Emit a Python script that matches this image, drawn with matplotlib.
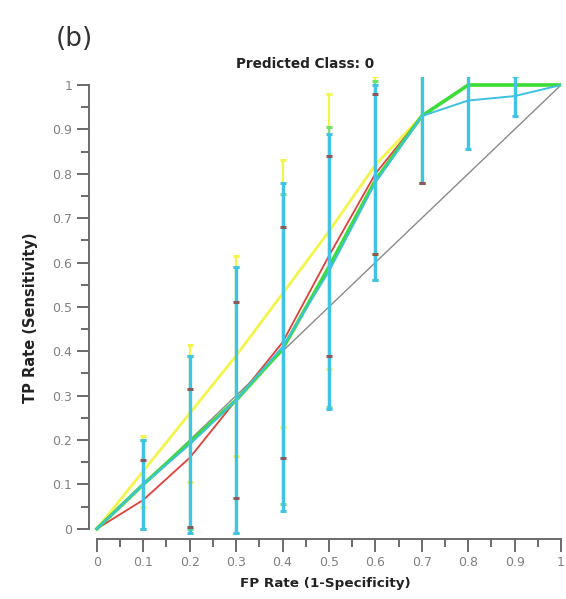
import matplotlib
matplotlib.use("Agg")
import matplotlib.pyplot as plt
import numpy as np

# ROC points (FP rate vs TP rate) for the four models, with +/- spread
fpr = [0.0, 0.1, 0.2, 0.3, 0.4, 0.5, 0.6, 0.7, 0.8, 0.9, 1.0]

yellow_tpr = [0.0, 0.13, 0.26, 0.39, 0.53, 0.67, 0.82, 0.93, 1.0, 1.0, 1.0]
yellow_err = [0.0, 0.08, 0.155, 0.225, 0.30, 0.31, 0.20, 0.15, 0.0, 0.0, 0.0]

red_tpr = [0.0, 0.065, 0.16, 0.29, 0.42, 0.615, 0.80, 0.93, 1.0, 1.0, 1.0]
red_err = [0.0, 0.09, 0.155, 0.22, 0.26, 0.225, 0.18, 0.15, 0.0, 0.0, 0.0]

green_tpr = [0.0, 0.10, 0.195, 0.29, 0.405, 0.59, 0.785, 0.93, 1.0, 1.0, 1.0]
green_err = [0.0, 0.10, 0.195, 0.30, 0.35, 0.315, 0.225, 0.15, 0.0, 0.0, 0.0]

cyan_tpr = [0.0, 0.10, 0.19, 0.29, 0.41, 0.58, 0.78, 0.93, 0.965, 0.975, 1.0]
cyan_err = [0.0, 0.10, 0.20, 0.30, 0.37, 0.31, 0.22, 0.15, 0.11, 0.045, 0.0]

ticks = [0, 0.1, 0.2, 0.3, 0.4, 0.5, 0.6, 0.7, 0.8, 0.9, 1]
tick_labels = ["0", "0.1", "0.2", "0.3", "0.4", "0.5", "0.6", "0.7", "0.8", "0.9", "1"]

fig = plt.figure(figsize=(5.66, 5.99), dpi=100)
ax = fig.add_axes([0.1572, 0.1002, 0.834, 0.7705])

# chance line
ax.plot([0, 1], [0, 1], color="#8a8a8a", lw=1.0, zorder=1)

# curves
ax.plot(fpr, yellow_tpr, color="#f4f54a", lw=2.0, zorder=2)
ax.plot(fpr, red_tpr, color="#e0403a", lw=1.3, zorder=3)
ax.plot(fpr, green_tpr, color="#3ddc3a", lw=2.6, zorder=4)
ax.plot(fpr, cyan_tpr, color="#3fc0e0", lw=1.4, zorder=5)

# error bars (only the inner points)
inner = slice(1, 10)
def bars(y, e, color, z, lw, cap_color=None):
    x = np.array(fpr[inner])
    y = np.array(y[inner])
    e = np.array(e[inner])
    keep = e > 0
    x, y, e = x[keep], y[keep], e[keep]
    ax.vlines(x, y - e, y + e, color=color, lw=lw, zorder=z)
    cc = cap_color or color
    ax.plot(x, y + e, ls="none", marker="_", ms=5, mew=2.2, color=cc, zorder=z + 0.5)
    ax.plot(x, y - e, ls="none", marker="_", ms=5, mew=2.2, color=cc, zorder=z + 0.5)

bars(yellow_tpr, yellow_err, "#f4f54a", 6, 1.6)
bars(green_tpr, green_err, "#6ee26a", 7, 1.6)
bars(cyan_tpr, cyan_err, "#40c4e6", 8, 2.4)
bars(red_tpr, red_err, "#40c4e6", 8, 0.1, cap_color="#8a5a5a")

ax.set_xlim(-0.017, 1.0)
ax.set_ylim(-0.023, 1.017)

for s in ["top", "right"]:
    ax.spines[s].set_visible(False)
ax.spines["left"].set_bounds(0, 1)
ax.spines["bottom"].set_bounds(0, 1)
for s in ["left", "bottom"]:
    ax.spines[s].set_color("#6a6a6a")
    ax.spines[s].set_linewidth(1.4)

ax.set_xticks(ticks)
ax.set_xticklabels(tick_labels)
ax.set_yticks(ticks)
ax.set_yticklabels(tick_labels)
ax.set_xticks(np.arange(0.05, 1.0, 0.1), minor=True)
ax.set_yticks(np.arange(0.05, 1.0, 0.1), minor=True)
ax.tick_params(which="major", direction="out", length=9, width=1.4, color="#6a6a6a",
               labelsize=9, labelcolor="#808080", pad=3)
ax.tick_params(which="minor", direction="out", length=6, width=1.4, color="#6a6a6a")

ax.set_xlabel("FP Rate (1-Specificity)", fontsize=9.7, fontweight="bold", color="#222222",
              labelpad=6)
ax.set_ylabel("TP Rate (Sensitivity)", fontsize=10.5, fontweight="bold", color="#222222")
ax.yaxis.set_label_coords(-0.108, 0.479)
fig.text(0.539, 0.893, "Predicted Class: 0", fontsize=9.8, fontweight="bold", color="#222222",
         ha="center", va="center")

fig.text(0.098, 0.935, "(b)", fontsize=19, color="#333333", ha="left", va="center")

fig.savefig("out.png", dpi=100)
